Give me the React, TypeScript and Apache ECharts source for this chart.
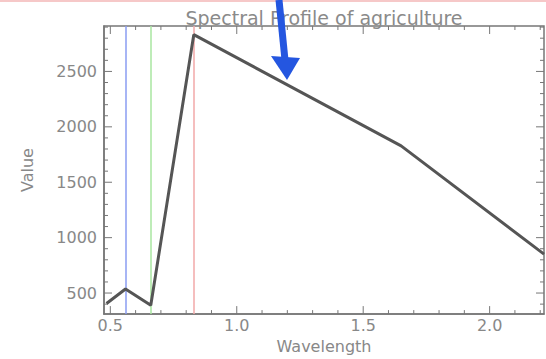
import React, { useEffect, useRef } from "react";
import * as echarts from "echarts";

const wavelengths = [0.485, 0.56, 0.66, 0.83, 1.65, 2.215];
const values = [406, 537, 390, 2832, 1828, 851];
const bandLines = [0.56, 0.66, 0.83];
const bandColors = ["#8a9cf2", "#a8e6a0", "#f2a8a8"];
const xTicks = [0.5, 1.0, 1.5, 2.0];
const yTicks = [500, 1000, 1500, 2000, 2500];
const xMinor = [0.6, 0.7, 0.8, 0.9, 1.1, 1.2, 1.3, 1.4, 1.6, 1.7, 1.8, 1.9, 2.1, 2.2];
const yMinor = [400, 600, 700, 800, 900, 1100, 1200, 1300, 1400, 1600, 1700, 1800, 1900, 2100, 2200, 2300, 2400, 2600, 2700, 2800, 2900];

const X_MIN = 0.475;
const X_MAX = 2.215;
const Y_MIN = 310;
const Y_MAX = 2910;

export default function App() {
  const ref = useRef<HTMLDivElement>(null);
  useEffect(() => {
    if (!ref.current) return;
    const chart = echarts.init(ref.current, null, { renderer: "svg" });
    const axisColor = "#777";
    const labelStyle = { color: "#888", fontSize: 16, fontFamily: "DejaVu Sans" };

    const yTickData = [
      ...yTicks.map((v) => [X_MIN, v, 8]),
      ...yMinor.map((v) => [X_MIN, v, 4]),
    ];
    const xTickData = [
      ...xTicks.map((v) => [v, Y_MIN, 8]),
      ...xMinor.map((v) => [v, Y_MIN, 4]),
    ];

    chart.setOption({
      animation: false,
      title: {
        text: "Spectral Profile of agriculture",
        left: 319,
        top: 3,
        textAlign: "center",
        textStyle: { color: "#8a8a8a", fontSize: 19, fontWeight: "normal", fontFamily: "DejaVu Sans" },
      },
      grid: { left: 104, right: 2, top: 26, bottom: 35, show: true, borderColor: axisColor, borderWidth: 1.5 },
      xAxis: {
        type: "value",
        min: X_MIN,
        max: X_MAX,
        name: "Wavelength",
        nameLocation: "middle",
        nameGap: 15,
        nameTextStyle: { color: "#888", fontSize: 16, fontFamily: "DejaVu Sans" },
        axisLine: { show: true, onZero: false, lineStyle: { color: axisColor, width: 1.5 } },
        axisTick: { show: false },
        axisLabel: {
          show: true,
          customValues: xTicks,
          formatter: (v: number) => v.toFixed(1),
          ...labelStyle,
          margin: 3,
        },
        splitLine: { show: false },
      },
      yAxis: {
        type: "value",
        min: Y_MIN,
        max: Y_MAX,
        name: "Value",
        nameLocation: "middle",
        nameGap: 69,
        nameRotate: 90,
        nameTextStyle: { color: "#888", fontSize: 16, fontFamily: "DejaVu Sans" },
        axisLine: { show: true, onZero: false, lineStyle: { color: axisColor, width: 1.5 } },
        axisTick: { show: false },
        axisLabel: {
          show: true,
          customValues: yTicks,
          formatter: (v: number) => String(v),
          ...labelStyle,
          margin: 7,
        },
        splitLine: { show: false },
      },
      series: [
        {
          type: "line",
          data: wavelengths.map((w, i) => [w, values[i]]),
          symbol: "none",
          lineStyle: { color: "#555", width: 3 },
          z: 5,
          markLine: {
            silent: true,
            symbol: ["none", "none"],
            label: { show: false },
            z: 3,
            data: bandLines.map((b, i) => ({
              xAxis: b,
              lineStyle: { color: bandColors[i], width: 1.5, type: "solid" },
            })),
          },
        },
        {
          type: "custom",
          silent: true,
          clip: false,
          z: 4,
          data: yTickData,
          renderItem: (params: any, api: any) => {
            const v = api.value(1);
            const len = api.value(2);
            const a = api.coord([X_MIN, v]);
            const b = api.coord([X_MAX, v]);
            const st = { stroke: axisColor, lineWidth: 1 };
            return {
              type: "group",
              children: [
                { type: "line", shape: { x1: a[0], y1: a[1], x2: a[0] + len, y2: a[1] }, style: st },
                { type: "line", shape: { x1: b[0], y1: b[1], x2: b[0] - len, y2: b[1] }, style: st },
              ],
            };
          },
        },
        {
          type: "custom",
          silent: true,
          clip: false,
          z: 4,
          data: xTickData,
          renderItem: (params: any, api: any) => {
            const v = api.value(0);
            const len = api.value(2);
            const a = api.coord([v, Y_MIN]);
            const b = api.coord([v, Y_MAX]);
            const st = { stroke: axisColor, lineWidth: 1 };
            return {
              type: "group",
              children: [
                { type: "line", shape: { x1: a[0], y1: a[1], x2: a[0], y2: a[1] - len }, style: st },
                { type: "line", shape: { x1: b[0], y1: b[1], x2: b[0], y2: b[1] + len }, style: st },
              ],
            };
          },
        },
      ],
      graphic: [
        { type: "line", shape: { x1: 0, y1: 1, x2: 546, y2: 1 }, style: { stroke: "#f6c8c8", lineWidth: 2 } },
        { type: "line", z: 100, shape: { x1: 279, y1: 0, x2: 285, y2: 60 }, style: { stroke: "#2456e0", lineWidth: 7 } },
        {
          type: "polygon",
          z: 100,
          shape: { points: [[271, 56], [300, 58], [287, 80]] },
          style: { fill: "#2456e0" },
        },
      ],
    });
    return () => chart.dispose();
  }, []);
  return <div ref={ref} style={{ width: 546, height: 359, position: "absolute", left: 0, top: 0 }} />;
}
